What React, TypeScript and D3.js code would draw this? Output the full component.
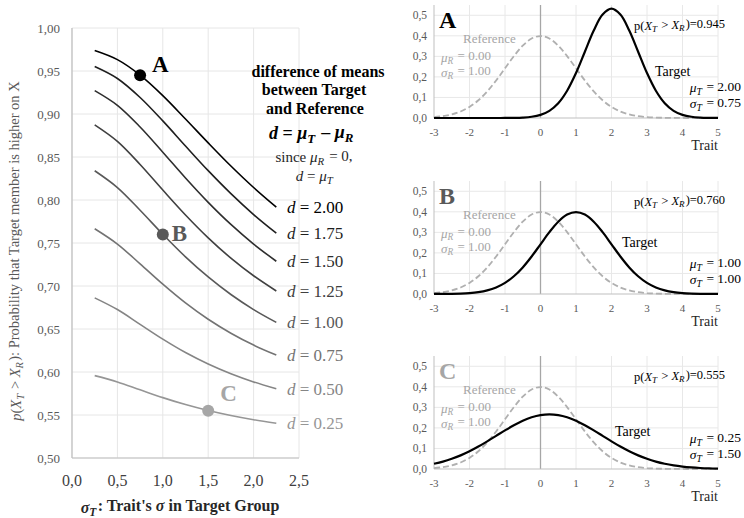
import React from "react";
import * as d3 from "d3";

// ---------- Left chart data ----------
const sigmaT = [0.25, 0.5, 0.75, 1.0, 1.25, 1.5, 1.75, 2.0, 2.25];
const dLevels = ["2.00", "1.75", "1.50", "1.25", "1.00", "0.75", "0.50", "0.25"];
const probD200 = [0.9738, 0.9632, 0.9452, 0.9214, 0.8942, 0.8664, 0.8395, 0.8145, 0.7917];
const probD175 = [0.9552, 0.9413, 0.9192, 0.892, 0.8628, 0.8341, 0.8074, 0.7831, 0.7614];
const probD150 = [0.9272, 0.9101, 0.8849, 0.8556, 0.8256, 0.7973, 0.7716, 0.7488, 0.7288];
const probD125 = [0.8874, 0.8682, 0.8413, 0.8116, 0.7826, 0.756, 0.7324, 0.7119, 0.6942];
const probD100 = [0.834, 0.8145, 0.7881, 0.7602, 0.7339, 0.7105, 0.6901, 0.6726, 0.6577];
const probD075 = [0.7666, 0.7488, 0.7257, 0.7021, 0.6803, 0.6613, 0.6451, 0.6313, 0.6197];
const probD050 = [0.6862, 0.6726, 0.6554, 0.6382, 0.6226, 0.6093, 0.598, 0.5885, 0.5805];
const probD025 = [0.5958, 0.5885, 0.5793, 0.5702, 0.5621, 0.5552, 0.5494, 0.5445, 0.5404];
const probSeries = [probD200, probD175, probD150, probD125, probD100, probD075, probD050, probD025];
const curveColors = ["#000000", "#1f1f1f", "#2e2e2e", "#404040", "#595959", "#737373", "#858585", "#969696"];
const yTicksLeft = [0.5, 0.55, 0.6, 0.65, 0.7, 0.75, 0.8, 0.85, 0.9, 0.95, 1.0];
const xTicksLeft = [0, 0.5, 1.0, 1.5, 2.0, 2.5];
const markerLabels = ["A", "B", "C"];
const markerSigma = [0.75, 1.0, 1.5];
const markerProb = [0.945, 0.76, 0.555];
const markerColors = ["#000000", "#595959", "#a6a6a6"];

// ---------- Right panels data ----------
const traitX = [-3, -2.75, -2.5, -2.25, -2, -1.75, -1.5, -1.25, -1, -0.75, -0.5, -0.25, 0, 0.25, 0.5, 0.75, 1, 1.25, 1.5, 1.75, 2, 2.25, 2.5, 2.75, 3, 3.25, 3.5, 3.75, 4, 4.25, 4.5, 4.75, 5];
const refDensity = [0.00443, 0.00909, 0.01753, 0.03174, 0.05399, 0.08628, 0.12952, 0.18265, 0.24197, 0.30114, 0.35207, 0.38667, 0.39894, 0.38667, 0.35207, 0.30114, 0.24197, 0.18265, 0.12952, 0.08628, 0.05399, 0.03174, 0.01753, 0.00909, 0.00443, 0.00203, 0.00087, 0.00035, 0.00013, 0.00005, 0.00002, 0.00001, 0.0];
const targetA = [0, 0, 0, 0, 0, 0, 0.00001, 0.00004, 0.00018, 0.00064, 0.00206, 0.00591, 0.0152, 0.035, 0.072, 0.1327, 0.2187, 0.3226, 0.4259, 0.5032, 0.5319, 0.5032, 0.4259, 0.3226, 0.2187, 0.1327, 0.072, 0.035, 0.0152, 0.00591, 0.00206, 0.00064, 0.00018];
const targetB = [0.00013, 0.00035, 0.00087, 0.00203, 0.00443, 0.00909, 0.01753, 0.03174, 0.05399, 0.08628, 0.12952, 0.18265, 0.24197, 0.30114, 0.35207, 0.38667, 0.39894, 0.38667, 0.35207, 0.30114, 0.24197, 0.18265, 0.12952, 0.08628, 0.05399, 0.03174, 0.01753, 0.00909, 0.00443, 0.00203, 0.00087, 0.00035, 0.00013];
const targetC = [0.02544, 0.03599, 0.04954, 0.06632, 0.08635, 0.10934, 0.13466, 0.16131, 0.18794, 0.21297, 0.23471, 0.25159, 0.26229, 0.26596, 0.26229, 0.25159, 0.23471, 0.21297, 0.18794, 0.16131, 0.13466, 0.10934, 0.08635, 0.06632, 0.04954, 0.03599, 0.02544, 0.01748, 0.01169, 0.0076, 0.0048, 0.00295, 0.00177];
const targetSeries = [targetA, targetB, targetC];
const panelMuT = ["2.00", "1.00", "0.25"];
const panelSigmaT = ["0.75", "1.00", "1.50"];
const panelP = ["0.945", "0.760", "0.555"];
const xTicksRight = [-3, -2, -1, 0, 1, 2, 3, 4, 5];
const yTicksRight = [0, 0.1, 0.2, 0.3, 0.4, 0.5];

const FONT = "'Liberation Serif', 'DejaVu Serif', serif";
const fmtComma = (v: number, n: number) => v.toFixed(n).replace(".", ",");

function Sub({ base, sub, italic = true, size = "0.72em" }: { base: string; sub: string; italic?: boolean; size?: string }) {
  return (
    <>
      <tspan fontStyle={italic ? "italic" : "normal"}>{base}</tspan>
      <tspan fontSize={size} dy="0.3em" fontStyle="italic">{sub}</tspan>
      <tspan dy="-0.3em">{"\u200A"}</tspan>
    </>
  );
}

function LeftChart() {
  const x = d3.scaleLinear().domain([0, 2.5]).range([72, 299]);
  const y = d3.scaleLinear().domain([0.5, 1.0]).range([458, 28]);
  const line = d3
    .line<number>()
    .x((_, i) => x(sigmaT[i]))
    .y((v) => y(v))
    .curve(d3.curveCatmullRom);
  return (
    <g fontFamily={FONT}>
      {yTicksLeft.map((t) => (
        <line key={"gy" + t} x1={x(0)} x2={x(2.5)} y1={y(t)} y2={y(t)} stroke="#e6e6e6" strokeWidth={1} />
      ))}
      {xTicksLeft.map((t) => (
        <line key={"gx" + t} x1={x(t)} x2={x(t)} y1={y(0.5)} y2={y(1.0)} stroke="#e6e6e6" strokeWidth={1} />
      ))}
      <line x1={x(0)} x2={x(0)} y1={y(0.5)} y2={y(1.0)} stroke="#bfbfbf" strokeWidth={1.2} />
      <line x1={x(0)} x2={x(2.5)} y1={y(0.5)} y2={y(0.5)} stroke="#bfbfbf" strokeWidth={1.2} />
      {yTicksLeft.map((t) => (
        <text key={"ty" + t} x={60} y={y(t)} dy="0.35em" textAnchor="end" fontSize={13} fill="#595959">
          {fmtComma(t, 2)}
        </text>
      ))}
      {xTicksLeft.map((t) => (
        <text key={"tx" + t} x={x(t)} y={480} dy="0.35em" textAnchor="middle" fontSize={16} fill="#404040">
          {fmtComma(t, 1)}
        </text>
      ))}
      {probSeries.map((s, i) => (
        <path key={"c" + i} d={line(s) || ""} fill="none" stroke={curveColors[i]} strokeWidth={1.6} />
      ))}
      {probSeries.map((s, i) => (
        <text key={"dl" + i} x={287} y={y(s[s.length - 1])} dy="0.35em" fontSize={17} fill={curveColors[i]}>
          <tspan fontStyle="italic">d</tspan>
          {" = " + dLevels[i]}
        </text>
      ))}
      {markerLabels.map((m, i) => (
        <circle key={"m" + m} cx={x(markerSigma[i])} cy={y(markerProb[i])} r={6} fill={markerColors[i]} />
      ))}
      <text x={x(0.75) + 12} y={y(0.945) - 3} fontSize={23} fontWeight="bold" fill="#000">A</text>
      <text x={x(1.0) + 9} y={y(0.76) + 7} fontSize={23} fontWeight="bold" fill="#595959">B</text>
      <text x={x(1.5) + 12} y={y(0.555) - 10} fontSize={23} fontWeight="bold" fill="#a6a6a6">C</text>

      <g textAnchor="middle" fill="#000">
        <text x={318} y={71} dy="0.35em" fontSize={16} fontWeight="bold">difference of means</text>
        <text x={314} y={89.5} dy="0.35em" fontSize={16} fontWeight="bold">between Target</text>
        <text x={315} y={108} dy="0.35em" fontSize={16} fontWeight="bold">and Reference</text>
        <text x={312} y={133} dy="0.35em" fontSize={18} fontWeight="bold">
          <tspan fontStyle="italic">d</tspan>
          {" = "}
          <Sub base="μ" sub="T" />
          {" – "}
          <Sub base="μ" sub="R" />
        </text>
        <text x={314} y={157} dy="0.35em" fontSize={15} fill="#262626">
          {"since "}
          <Sub base="μ" sub="R" />
          {" = 0,"}
        </text>
        <text x={315} y={176} dy="0.35em" fontSize={15} fill="#262626">
          <tspan fontStyle="italic">d</tspan>
          {" = "}
          <Sub base="μ" sub="T" />
        </text>
      </g>

      <text x={180} y={507} dy="0.35em" textAnchor="middle" fontSize={16} fontWeight="bold" fill="#262626">
        <Sub base="σ" sub="T" />
        {": Trait's "}
        <tspan fontStyle="italic">σ</tspan>
        {" in Target Group"}
      </text>
      <text transform="translate(16,251) rotate(-90)" textAnchor="middle" dy="0.35em" fontSize={14.5} fill="#595959">
        <tspan fontStyle="italic">p</tspan>
        {"("}
        <Sub base="X" sub="T" />
        {" > "}
        <Sub base="X" sub="R" />
        {"): Probability that Target member is higher on X"}
      </text>
    </g>
  );
}

const targetLabelX = [655, 622, 615];
const targetLabelDy = [-47, -52, -38];

function Panel({ idx, base }: { idx: number; base: number }) {
  const x = d3.scaleLinear().domain([-3, 5]).range([434, 718]);
  const y = d3.scaleLinear().domain([0, 0.55]).range([base, base - 113]);
  const line = d3
    .line<number>()
    .x((_, i) => x(traitX[i]))
    .y((v) => y(v))
    .curve(d3.curveCatmullRom);
  const letterColor = markerColors[idx];
  return (
    <g fontFamily={FONT}>
      {yTicksRight.slice(1).map((t) => (
        <line key={"gy" + t} x1={x(-3)} x2={x(5)} y1={y(t)} y2={y(t)} stroke="#e8e8e8" />
      ))}
      {xTicksRight.slice(1).map((t) => (
        <line key={"gx" + t} x1={x(t)} x2={x(t)} y1={y(0)} y2={y(0.55)} stroke="#e8e8e8" />
      ))}
      <line x1={x(-3)} x2={x(-3)} y1={y(0)} y2={y(0.55)} stroke="#bfbfbf" />
      <line x1={x(0)} x2={x(0)} y1={y(0)} y2={y(0.55)} stroke="#a6a6a6" strokeWidth={1.3} />
      <line x1={x(-3)} x2={x(5)} y1={y(0)} y2={y(0)} stroke="#bfbfbf" strokeWidth={1.2} />
      {yTicksRight.map((t) => (
        <text key={"ty" + t} x={427} y={y(t)} dy="0.35em" textAnchor="end" fontSize={11.5} fill="#595959">
          {fmtComma(t, 1)}
        </text>
      ))}
      {xTicksRight.map((t) => (
        <text key={"tx" + t} x={x(t)} y={y(0) + 14} dy="0.35em" textAnchor="middle" fontSize={11} fill="#595959">
          {String(t)}
        </text>
      ))}
      <text x={718} y={y(0) + 27} dy="0.35em" textAnchor="end" fontSize={14} fill="#262626">Trait</text>
      <path d={line(refDensity) || ""} fill="none" stroke="#b0b0b0" strokeWidth={1.8} strokeDasharray="6,3" />
      <path d={line(targetSeries[idx]) || ""} fill="none" stroke="#000" strokeWidth={2.2} />
      <text x={439} y={y(0.5) + 13} fontSize={24} fontWeight="bold" fill={letterColor}>{markerLabels[idx]}</text>
      <g fill="#a6a6a6" fontSize={13}>
        <text x={463} y={base - 80} dy="0.35em">Reference</text>
        <text x={441} y={base - 61} dy="0.35em">
          <Sub base="μ" sub="R" />
          {" = 0.00"}
        </text>
        <text x={441} y={base - 46} dy="0.35em">
          <Sub base="σ" sub="R" />
          {" = 1.00"}
        </text>
      </g>
      <text x={725} y={y(0.5) + 10} dy="0.35em" textAnchor="end" fontSize={12.5} fill="#000">
        {"p("}
        <Sub base="X" sub="T" />
        {" > "}
        <Sub base="X" sub="R" />
        {")=" + panelP[idx]}
      </text>
      <text x={targetLabelX[idx]} y={base + targetLabelDy[idx]} dy="0.35em" fontSize={14} fill="#000">
        Target
      </text>
      <text x={741} y={base - 31} dy="0.35em" textAnchor="end" fontSize={13.5} fill="#000">
        <Sub base="μ" sub="T" />
        {" = " + panelMuT[idx]}
      </text>
      <text x={741} y={base - 15} dy="0.35em" textAnchor="end" fontSize={13.5} fill="#000">
        <Sub base="σ" sub="T" />
        {"  = " + panelSigmaT[idx]}
      </text>
    </g>
  );
}

export default function App() {
  return (
    <svg width={744} height={518} style={{ position: "absolute", left: 0, top: 0, background: "#fff" }}>
      <rect width={744} height={518} fill="#fff" />
      <LeftChart />
      <Panel idx={0} base={118} />
      <Panel idx={1} base={294} />
      <Panel idx={2} base={469} />
    </svg>
  );
}
